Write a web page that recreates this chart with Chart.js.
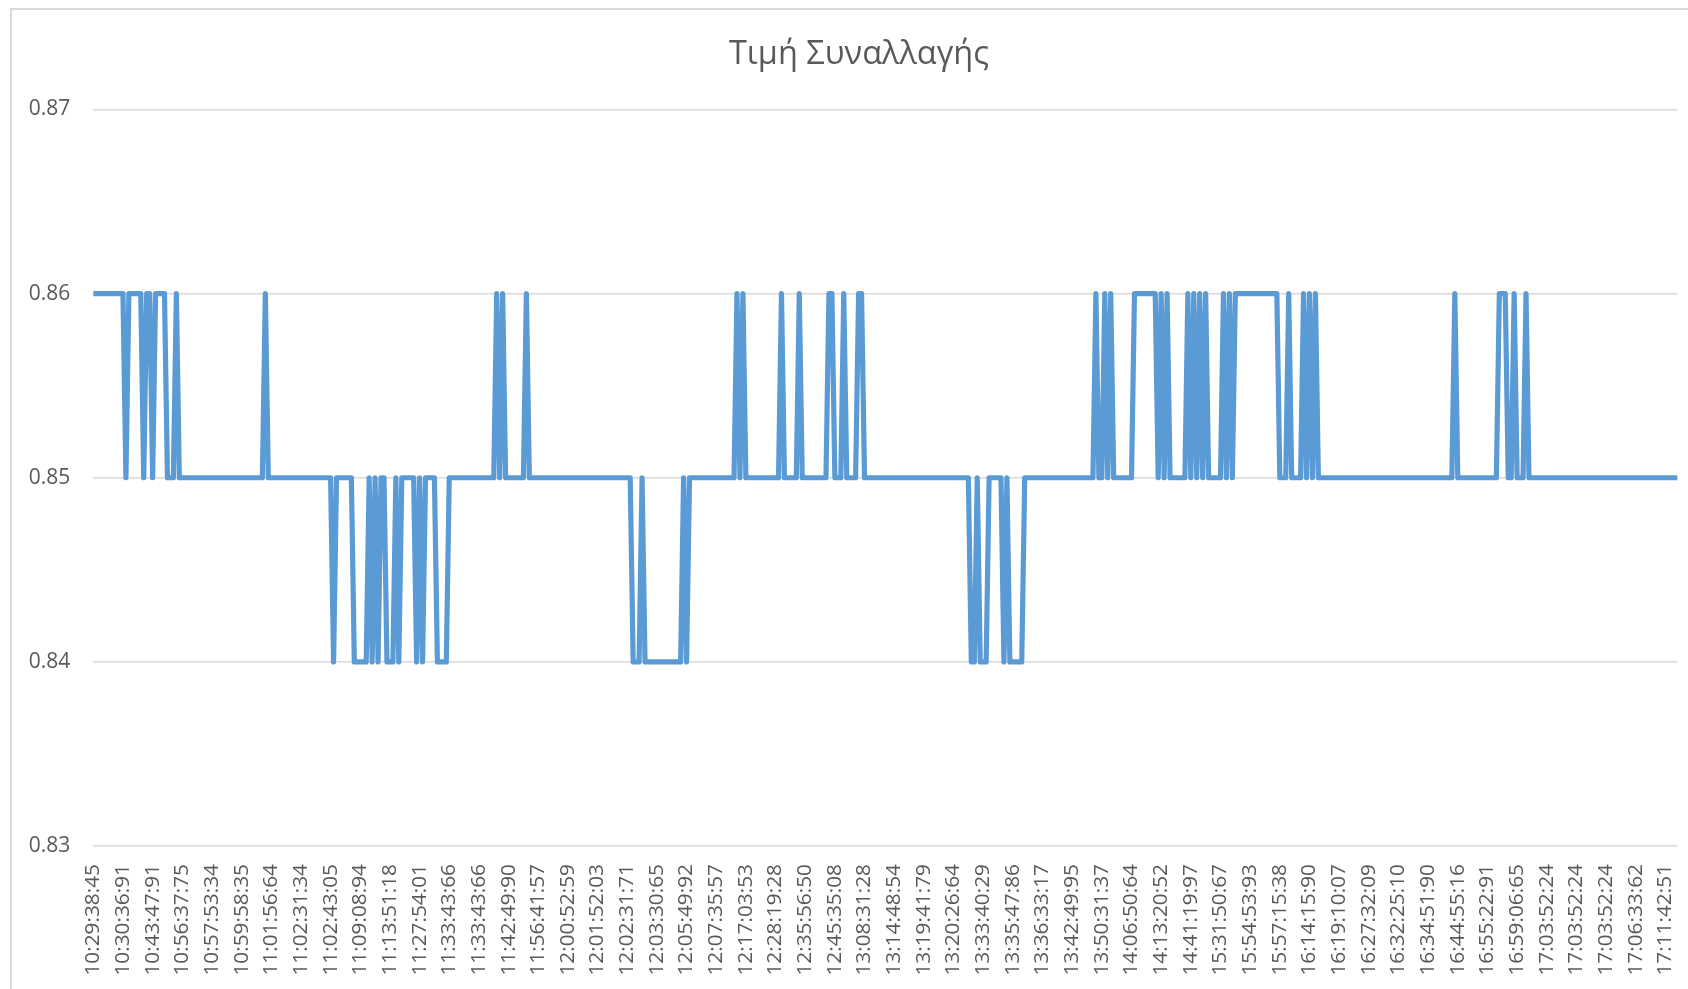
<!DOCTYPE html>
<html>
<head>
<meta charset="utf-8">
<script src="https://cdn.jsdelivr.net/npm/chart.js@4/dist/chart.umd.min.js"></script>
<style>
  html, body { margin: 0; padding: 0; background: #ffffff; }
  #c { display: block; }
</style>
</head>
<body>
<canvas id="c" width="1688" height="989"></canvas>
<script>
const chartTitle = 'Τιμή Συναλλαγής';

// category labels shown on the axis (one every 10 trades)
const tickLabels = [
  '10:29:38:45','10:30:36:91','10:43:47:91','10:56:37:75','10:57:53:34','10:59:58:35',
  '11:01:56:64','11:02:31:34','11:02:43:05','11:09:08:94','11:13:51:18','11:27:54:01',
  '11:33:43:66','11:33:43:66','11:42:49:90','11:56:41:57','12:00:52:59','12:01:52:03',
  '12:02:31:71','12:03:30:65','12:05:49:92','12:07:35:57','12:17:03:53','12:28:19:28',
  '12:35:56:50','12:45:35:08','13:08:31:28','13:14:48:54','13:19:41:79','13:20:26:64',
  '13:33:40:29','13:35:47:86','13:36:33:17','13:42:49:95','13:50:31:37','14:06:50:64',
  '14:13:20:52','14:41:19:97','15:31:50:67','15:54:53:93','15:57:15:38','16:14:15:90',
  '16:19:10:07','16:27:32:09','16:32:25:10','16:34:51:90','16:44:55:16','16:55:22:91',
  '16:59:06:65','17:03:52:24','17:03:52:24','17:03:52:24','17:06:33:62','17:11:42:51'
];
const labelEvery = 10;
const lastTradeIndex = 534;

// trade prices, as [price, number of consecutive trades]
const priceRuns = [
  [0.86,11],[0.85,1],[0.86,5],[0.85,1],[0.86,2],[0.85,1],[0.86,4],[0.85,3],[0.86,1],
  [0.85,29],[0.86,1],[0.85,22],[0.84,1],[0.85,6],[0.84,5],[0.85,1],[0.84,1],[0.85,1],
  [0.84,1],[0.85,2],[0.84,3],[0.85,1],[0.84,1],[0.85,5],[0.84,1],[0.85,1],[0.84,1],
  [0.85,4],[0.84,4],[0.85,16],[0.86,1],[0.85,1],[0.86,1],[0.85,7],[0.86,1],[0.85,35],
  [0.84,3],[0.85,1],[0.84,13],[0.85,1],[0.84,1],[0.85,16],[0.86,1],[0.85,1],[0.86,1],
  [0.85,12],[0.86,1],[0.85,5],[0.86,1],[0.85,9],[0.86,2],[0.85,3],[0.86,1],[0.85,4],
  [0.86,2],[0.85,36],[0.84,2],[0.85,1],[0.84,3],[0.85,5],[0.84,1],[0.85,1],[0.84,5],
  [0.85,24],[0.86,1],[0.85,2],[0.86,1],[0.85,1],[0.86,1],[0.85,7],[0.86,8],[0.85,1],
  [0.86,1],[0.85,1],[0.86,1],[0.85,6],[0.86,1],[0.85,1],[0.86,1],[0.85,1],[0.86,1],
  [0.85,1],[0.86,1],[0.85,5],[0.86,1],[0.85,1],[0.86,1],[0.85,1],[0.86,15],[0.85,3],
  [0.86,1],[0.85,4],[0.86,1],[0.85,1],[0.86,1],[0.85,1],[0.86,1],[0.85,46],[0.86,1],
  [0.85,14],[0.86,3],[0.85,2],[0.86,1],[0.85,3],[0.86,1],[0.85,51]
];

const yMin = 0.83, yMax = 0.87, yStep = 0.01;

const prices = [];
priceRuns.forEach(([p, n]) => { for (let k = 0; k < n; k++) prices.push(p); });
const points = prices.map((y, i) => ({ x: i, y }));

const TEXT = '#595959';
const GRID = '#d9d9d9';
const LINE = '#5B9BD5';

const framePlugin = {
  id: 'frame',
  afterLayout(chart) {
    // the chart box continues past the right edge of the picture; centre the title on it
    if (chart.titleBlock) { chart.titleBlock.left = 40.5; }
  },
  beforeDraw(chart) {
    const ctx = chart.ctx;
    ctx.save();
    ctx.fillStyle = '#ffffff';
    ctx.fillRect(0, 0, chart.width, chart.height);
    ctx.strokeStyle = GRID;
    ctx.lineWidth = 2;
    ctx.strokeRect(11, 9, chart.width + 40, chart.height + 40);
    ctx.restore();
  }
};

new Chart(document.getElementById('c'), {
  type: 'line',
  data: {
    datasets: [{
      label: chartTitle,
      data: points,
      borderColor: LINE,
      backgroundColor: LINE,
      borderWidth: 5.2,
      pointRadius: 0,
      tension: 0,
      borderJoinStyle: 'round',
      borderCapStyle: 'round',
      fill: false
    }]
  },
  options: {
    responsive: false,
    animation: false,
    devicePixelRatio: 1,
    layout: { padding: { left: 0, right: 10.7, top: 0, bottom: 0 } },
    plugins: {
      legend: { display: false },
      tooltip: { enabled: false },
      title: {
        display: true,
        text: chartTitle,
        color: TEXT,
        font: { family: "'Open Sans'", size: 32.5, weight: 'normal' },
        padding: { top: 35.5, bottom: 35 }
      }
    },
    scales: {
      x: {
        type: 'linear',
        min: 0,
        max: lastTradeIndex,
        border: { display: false },
        grid: { display: false, drawTicks: false },
        ticks: {
          stepSize: labelEvery,
          autoSkip: false,
          includeBounds: false,
          minRotation: 90,
          maxRotation: 90,
          padding: 18,
          color: TEXT,
          font: { family: "'Open Sans'", size: 20.8 },
          callback: v => tickLabels[Math.round(v / labelEvery)] ?? ''
        },
        afterFit: s => { s.height = 143; s.paddingLeft = 0; s.paddingRight = 0; }
      },
      y: {
        min: yMin,
        max: yMax,
        border: { display: false },
        grid: { color: GRID, lineWidth: 1.6, drawTicks: false },
        ticks: {
          stepSize: yStep,
          padding: 23,
          color: TEXT,
          font: { family: "'Open Sans'", size: 21 },
          callback: v => v.toFixed(2)
        },
        afterFit: s => { s.width = 93.3; s.paddingTop = 0; s.paddingBottom = 0; }
      }
    }
  },
  plugins: [framePlugin]
});
</script>
</body>
</html>
